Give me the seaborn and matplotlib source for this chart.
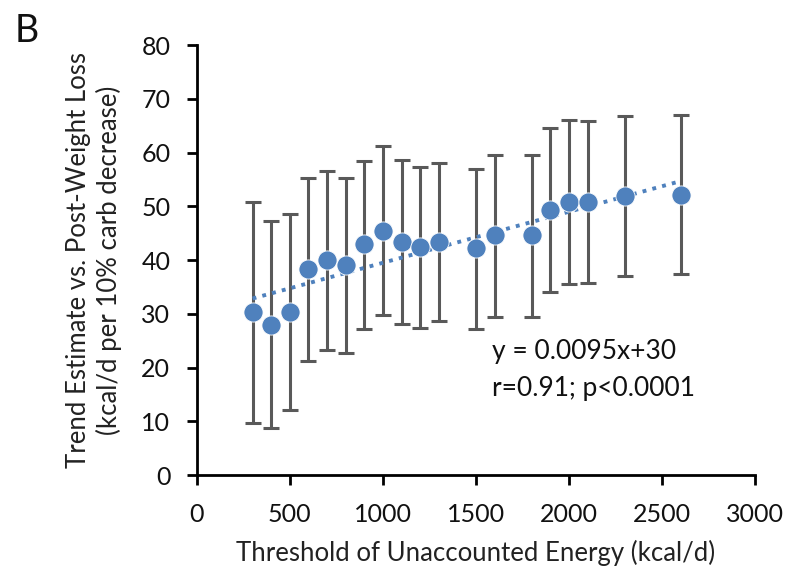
import matplotlib
matplotlib.use("Agg")
import matplotlib.pyplot as plt
import seaborn as sns
import numpy as np
import pandas as pd

threshold = [300, 400, 500, 600, 700, 800, 900, 1000, 1100, 1200, 1300,
             1500, 1600, 1800, 1900, 2000, 2100, 2300, 2600]
estimate = [30.3, 28.0, 30.4, 38.3, 40.0, 39.0, 43.0, 45.5, 43.3, 42.4, 43.3,
            42.2, 44.6, 44.6, 49.3, 50.8, 50.8, 51.9, 52.2]
lower = [9.6, 8.8, 12.2, 21.3, 23.3, 22.8, 27.2, 29.8, 28.2, 27.3, 28.6,
         27.2, 29.5, 29.5, 34.1, 35.5, 35.8, 37.0, 37.4]
upper = [50.8, 47.2, 48.6, 55.2, 56.5, 55.2, 58.5, 61.2, 58.6, 57.4, 58.1,
         57.0, 59.5, 59.6, 64.5, 66.0, 65.8, 66.8, 67.0]
slope, intercept = 0.0095, 30
x_ticks = [0, 500, 1000, 1500, 2000, 2500, 3000]
y_ticks = [0, 10, 20, 30, 40, 50, 60, 70, 80]

df = pd.DataFrame({"x": threshold, "y": estimate, "lo": lower, "hi": upper})

sns.set_style("ticks")
plt.rcParams['font.family'] = ['Lato', 'DejaVu Sans']

fig = plt.figure(figsize=(7.9, 5.71), dpi=100)
ax = fig.add_axes([0.249, 0.168, 0.707, 0.753])

blue = "#4f81bd"
ax.errorbar(df["x"], df["y"],
            yerr=[df["y"] - df["lo"], df["hi"] - df["y"]],
            fmt="none", ecolor="#595959", elinewidth=2.2, capsize=6, capthick=2.2, zorder=2)
xf = np.array([min(threshold), max(threshold)])
ax.plot(xf, slope * xf + intercept, linestyle=(0, (1, 1.6)), color=blue, lw=2.8, zorder=3)
sns.scatterplot(data=df, x="x", y="y", ax=ax, color=blue, s=190, edgecolor="white",
                linewidth=0.6, zorder=4)

ax.set_xlim(0, 3000)
ax.set_ylim(0, 80)
ax.set_xticks(x_ticks)
ax.set_yticks(y_ticks)
ax.tick_params(axis="both", labelsize=18, width=2, length=7, color="black", labelcolor="#111111")
ax.tick_params(axis="x", pad=13)
ax.tick_params(axis="y", pad=12)
for s in ["left", "bottom"]:
    ax.spines[s].set_linewidth(2)
    ax.spines[s].set_color("black")
sns.despine(ax=ax)
ax.set_xlabel("Threshold of Unaccounted Energy (kcal/d)", fontsize=18.5, labelpad=10, color="#222222")
ax.set_ylabel("Trend Estimate vs. Post-Weight Loss\n(kcal/d per 10% carb decrease)",
              fontsize=18.5, labelpad=14, color="#222222", linespacing=1.2)
ax.text(1585, 19.5, "y = 0.0095x+30\nr=0.91; p<0.0001", fontsize=19, va="center", ha="left",
        linespacing=1.6, color="#111111")
fig.text(0.018, 0.978, "B", fontsize=27, va="top", ha="left", color="#111111")

fig.savefig("out.png", dpi=100)
